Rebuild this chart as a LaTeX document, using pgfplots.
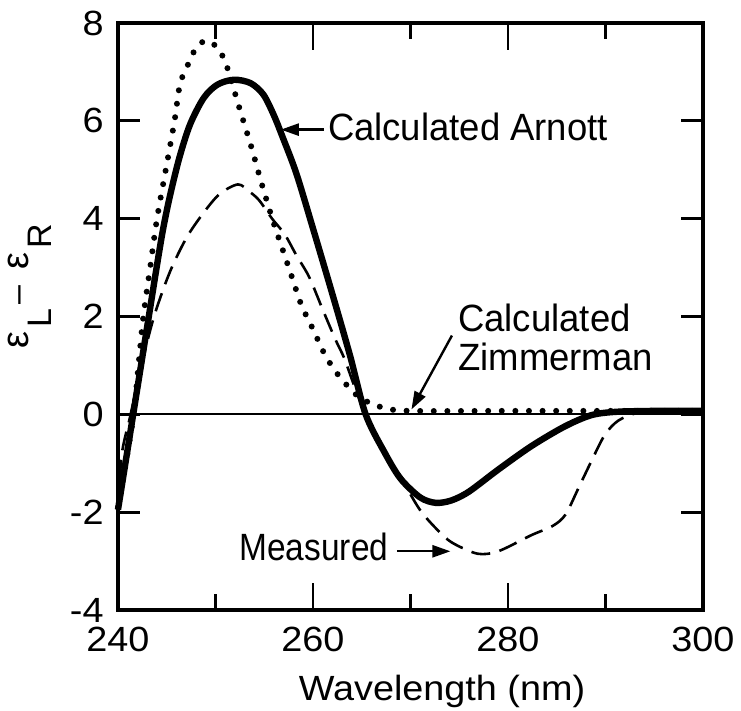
\documentclass[border=0pt]{standalone}
\usepackage{pgfplots}
\pgfplotsset{compat=1.18}
\usepackage{fontspec}
\setmainfont{Liberation Sans}
\newfontfamily\tickfont{Liberation Sans}[FakeStretch=1.08]
\newfontfamily\annfont{Liberation Sans}[FakeStretch=0.96]
\newfontfamily\measfont{Liberation Sans}[FakeStretch=0.88]
\usetikzlibrary{arrows.meta}

\pgfplotstableread{
x y
240.0 -1.95
240.76 -1.0
241.56 0.0
242.36 1.0
243.16 2.0
243.96 3.0
244.6 3.76
245.3 4.44
246.3 5.25
247.4 5.93
248.8 6.47
250.2 6.74
251.9 6.84
253.6 6.77
254.9 6.54
255.95 6.13
256.9 5.66
258.3 4.92
260.0 3.8
262.0 2.45
263.8 1.2
265.4 0.0
267.4 -0.8
269.0 -1.32
271.0 -1.70
272.6 -1.81
274.2 -1.76
276.0 -1.58
279.0 -1.13
282.4 -0.65
285.8 -0.25
288.5 -0.02
291.0 0.05
295.0 0.07
300.0 0.07
}\arnott

\pgfplotstableread{
x y
240.0 -1.9
240.8 -1.0
241.6 0.0
242.1 1.0
242.6 2.0
243.3 3.0
244.0 4.0
244.9 5.0
245.8 6.0
246.4 6.78
247.5 7.28
248.0 7.49
249.0 7.64
250.2 7.5
250.9 7.25
251.3 7.03
252.5 6.23
253.7 5.45
254.7 4.74
255.9 3.95
256.8 3.42
257.8 2.83
258.8 2.24
260.0 1.74
261.3 1.19
262.8 0.75
264.6 0.37
265.9 0.23
267.5 0.12
270.0 0.07
280.0 0.07
290.0 0.07
300.0 0.07
}\zimmerman

\pgfplotstableread{
x y
240.0 -1.9
240.4 -0.8
241.3 0.0
242.4 1.0
243.7 2.0
245.3 2.9
247.0 3.6
248.7 4.1
250.4 4.5
252.3 4.7
253.5 4.55
254.5 4.37
255.8 4.0
257.1 3.68
258.3 3.25
259.6 2.81
261.0 2.14
262.3 1.53
263.2 1.15
264.2 0.6
265.4 0.0
267.4 -0.8
269.3 -1.4
271.1 -1.99
273.2 -2.45
274.5 -2.65
276.9 -2.85
279.0 -2.8
282.4 -2.47
284.6 -2.28
285.9 -2.05
287.2 -1.52
288.5 -0.98
289.9 -0.43
291.3 -0.13
293.3 0.03
296.0 0.06
300.0 0.06
}\measured

\begin{document}
\begin{tikzpicture}
\path[use as bounding box] (-59pt,-50.5pt) rectangle (311.5pt,305pt);
\begin{axis}[
  at={(0,0)}, anchor=south west,
  scale only axis, width=292.5pt, height=293.5pt,
  xmin=240, xmax=300, ymin=-4, ymax=8,
  axis line style={line width=1.6pt},
  xtick={240,260,280,300}, xticklabels={240,260,280,300},
  minor xtick={250,270,290},
  ytick={-4,-2,0,2,4,6,8}, yticklabels={-4,-2,0,2,4,6,8},
  tick align=inside,
  tick style={line width=1.4pt, black},
  xtick style={/pgfplots/major tick length=13.5pt,/pgfplots/minor tick length=8pt},
  ytick style={/pgfplots/major tick length=11pt},
  ticklabel style={font=\tickfont\fontsize{17.5}{17.5}\selectfont, inner sep=1pt},
  xticklabel style={yshift=-7.5pt},
  yticklabel style={xshift=-6pt},
  clip=false,
]
\addplot[black, line width=1pt] coordinates {(240,0) (300,0)};
\addplot[black, line width=1.3pt, smooth, tension=0.5, dash pattern=on 9.5pt off 4.8pt] table[x=x,y=y] {\measured};
\addplot[black, line width=3pt, smooth, tension=0.5, line cap=round, dash pattern=on 0pt off 6.8pt] table[x=x,y=y] {\zimmerman};
\addplot[black, line width=3.2pt, smooth, tension=0.5] table[x=x,y=y] {\arnott};

\node[anchor=base west, inner sep=0, font=\annfont\fontsize{19}{19}\selectfont] at (axis cs:261.5,5.6) {Calculated Arnott};
\draw[line width=1.2pt, -{Triangle[length=9pt,width=6pt]}] (axis cs:261.1,5.82) -- (axis cs:256.7,5.82);

\node[anchor=base west, inner sep=0, font=\annfont\fontsize{19}{19}\selectfont] at (axis cs:274.86,1.70) {Calculated};
\node[anchor=base west, inner sep=0, font=\annfont\fontsize{19}{19}\selectfont] at (axis cs:274.86,0.89) {Zimmerman};
\draw[line width=1.2pt, -{Triangle[length=9pt,width=6pt]}] (axis cs:274.25,1.61) -- (axis cs:270.1,0.1);

\node[anchor=base east, inner sep=0, font=\measfont\fontsize{19}{19}\selectfont] at (axis cs:267.76,-2.99) {Measured};
\draw[line width=1.2pt, -{Triangle[length=9pt,width=6pt]}] (axis cs:268.6,-2.8) -- (axis cs:274.1,-2.8);
\end{axis}
\node[anchor=base, inner sep=0, font=\tickfont\fontsize{17.5}{17.5}\selectfont] at (162pt,-45.5pt) {Wavelength (nm)};
\node[anchor=base, rotate=90, inner sep=0, font=\fontsize{17}{17}\selectfont] at (-45pt,162pt)
  {{\fontsize{19}{19}\selectfont ε}\hspace{2pt}\raisebox{-12pt}{L}\hspace{2pt}–\hspace{8pt}{\fontsize{19}{19}\selectfont ε}\hspace{2pt}\raisebox{-12pt}{R}};
\end{tikzpicture}
\end{document}
